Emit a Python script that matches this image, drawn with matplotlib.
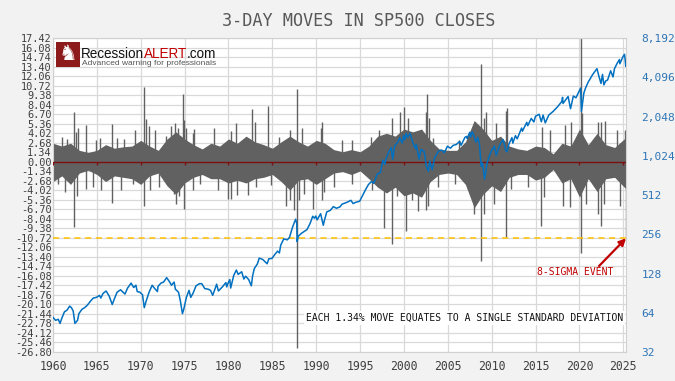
import matplotlib
matplotlib.use("Agg")
import matplotlib.pyplot as plt
from matplotlib.patches import Rectangle

# --- values ---

# typical band of 3-day moves (%), one value per year (last = last bar)
env_years = [1960, 1961, 1962, 1963, 1964, 1965, 1966, 1967, 1968, 1969,
             1970, 1971, 1972, 1973, 1974, 1975, 1976, 1977, 1978, 1979,
             1980, 1981, 1982, 1983, 1984, 1985, 1986, 1987, 1988, 1989,
             1990, 1991, 1992, 1993, 1994, 1995, 1996, 1997, 1998, 1999,
             2000, 2001, 2002, 2003, 2004, 2005, 2006, 2007, 2008, 2009,
             2010, 2011, 2012, 2013, 2014, 2015, 2016, 2017, 2018, 2019,
             2020, 2021, 2022, 2023, 2024, 2025.27]
env_up = [2.6, 2.2, 2.6, 1.6, 1.3, 1.6, 2.4, 1.9, 2.1, 2.2,
          3.0, 2.2, 1.6, 3.2, 4.2, 3.2, 2.4, 1.8, 2.6, 2.2,
          3.2, 2.6, 3.6, 2.8, 2.4, 1.9, 2.8, 3.6, 2.8, 2.2,
          3.0, 2.6, 1.7, 1.4, 1.7, 1.4, 2.2, 3.6, 4.0, 3.6,
          4.6, 4.2, 4.6, 3.0, 1.8, 1.6, 1.6, 2.8, 5.8, 4.6,
          3.0, 3.6, 2.2, 1.8, 1.6, 2.2, 2.0, 1.1, 2.6, 2.2,
          4.6, 2.4, 4.0, 2.4, 2.0, 3.4]
env_down = [-2.8, -2.0, -3.2, -1.6, -1.2, -1.8, -2.8, -2.0, -2.2, -2.4,
            -3.2, -2.0, -1.6, -3.4, -4.6, -3.0, -2.2, -1.8, -2.4, -2.4,
            -3.0, -2.6, -3.0, -2.4, -2.2, -1.8, -2.8, -4.0, -2.6, -2.4,
            -3.2, -2.4, -1.6, -1.4, -1.8, -1.3, -2.4, -3.6, -4.4, -3.6,
            -4.8, -4.4, -5.0, -2.8, -1.8, -1.6, -1.8, -3.2, -6.5, -4.6,
            -3.4, -4.2, -2.2, -1.8, -1.8, -2.6, -2.2, -1.1, -3.0, -2.4,
            -5.0, -2.4, -4.2, -2.4, -2.2, -3.8]

# larger single moves sticking out of the band
up_years = [1960.98, 1961.6, 1962.4, 1962.6, 1962.8, 1963.8, 1964.9, 1965.4,
            1966.7, 1967.3, 1968.1, 1969.4, 1970.32, 1970.6, 1970.9, 1971.6,
            1972.9, 1973.4, 1973.9, 1974.3, 1974.8, 1974.9, 1975.1, 1975.9,
            1976.1, 1978.4, 1980.3, 1980.8, 1982.72, 1983.03, 1984.5, 1985.7,
            1987.05, 1987.8, 1988.4, 1990.5, 1990.7, 1992.9, 1994.1, 1996.2,
            1997.1, 1998.6, 1999.6, 2000.0, 2000.4, 2001.2, 2002.5, 2002.65,
            2002.9, 2003.3, 2006.3, 2007.4, 2008.8, 2009.1, 2009.3, 2010.5,
            2011.6, 2011.77, 2015.75, 2016.6, 2018.35, 2019.0, 2020.2, 2020.3,
            2022.1, 2022.5, 2022.85, 2024.3, 2025.2]
up_vals = [3.5, 3.2, 7.0, 4.2, 4.7, 5.2, 3.0, 3.4,
           5.3, 3.4, 3.2, 4.4, 10.5, 6.0, 5.0, 4.5,
           3.6, 5.0, 5.4, 4.8, 9.6, 5.9, 4.8, 4.0,
           4.6, 4.7, 4.3, 5.4, 7.4, 5.6, 7.8, 3.5,
           4.5, 10.3, 4.7, 4.7, 5.6, 3.0, 3.0, 3.5,
           4.5, 6.1, 7.0, 7.7, 6.1, 4.2, 7.0, 9.6,
           6.1, 3.3, 3.0, 4.0, 13.8, 6.1, 7.0, 5.4,
           7.2, 7.6, 4.9, 4.4, 5.1, 5.6, 17.6, 6.8,
           5.6, 5.6, 5.8, 4.4, 4.4]

down_years = [1960.6, 1961.4, 1962.4, 1962.7, 1963.8, 1964.6, 1965.5, 1966.7,
              1967.8, 1969.1, 1970.4, 1971.0, 1972.1, 1973.8, 1974.0, 1974.4,
              1974.9, 1975.9, 1976.7, 1978.8, 1979.9, 1980.3, 1981.0, 1982.2,
              1983.1, 1984.8, 1986.5, 1987.05, 1987.45, 1987.8, 1988.0, 1988.6,
              1989.6, 1990.6, 1990.85, 1992.0, 1994.1, 1996.35, 1997.7, 1998.6,
              1999.2, 2000.2, 2000.9, 2001.6, 2002.5, 2002.75, 2003.9, 2005.8,
              2007.3, 2007.85, 2008.0, 2008.8, 2009.15, 2010.3, 2011.6, 2012.2,
              2014.1, 2015.6, 2016.0, 2018.1, 2018.9, 2020.2, 2020.75, 2022.15,
              2022.45, 2022.8, 2024.6, 2025.27]
down_vals = [-3.1, -4.2, -9.2, -4.9, -3.8, -3.5, -4.0, -5.8,
             -4.0, -3.1, -6.2, -4.0, -3.5, -4.5, -5.9, -4.9,
             -6.7, -4.0, -3.1, -4.0, -5.2, -5.3, -4.7, -4.7,
             -3.5, -3.3, -6.3, -5.4, -6.8, -26.3, -5.4, -4.5,
             -6.6, -5.4, -4.2, -3.5, -3.1, -4.0, -9.4, -11.6,
             -4.9, -9.7, -5.4, -7.0, -6.8, -6.3, -3.5, -3.1,
             -3.8, -4.9, -7.3, -14.0, -7.3, -5.9, -10.6, -3.8,
             -3.6, -9.0, -5.0, -6.2, -6.4, -12.9, -5.9, -7.3,
             -9.0, -5.9, -6.2, -10.8]

# SP500 close (right log axis)
sp_years = [1960.0, 1960.3, 1960.6, 1960.8, 1961.0, 1961.3, 1961.6, 1961.9,
            1962.1, 1962.3, 1962.5, 1962.8, 1962.95, 1963.3, 1963.6, 1963.9,
            1964.3, 1964.6, 1964.95, 1965.3, 1965.45, 1965.7, 1966.05, 1966.4,
            1966.75, 1967.0, 1967.3, 1967.7, 1968.2, 1968.5, 1968.9, 1969.2,
            1969.45, 1969.6, 1969.9, 1970.2, 1970.4, 1970.6, 1970.95, 1971.3,
            1971.6, 1971.9, 1971.97, 1972.3, 1972.6, 1972.95, 1973.3, 1973.5,
            1973.8, 1973.95, 1974.3, 1974.5, 1974.75, 1974.9, 1975.2, 1975.5,
            1975.7, 1975.95, 1976.3, 1976.7, 1976.95, 1977.3, 1977.7, 1977.95,
            1978.2, 1978.65, 1978.85, 1979.3, 1979.7, 1979.8, 1979.95, 1980.15,
            1980.25, 1980.6, 1980.9, 1981.1, 1981.5, 1981.75, 1981.95, 1982.3,
            1982.6, 1982.75, 1982.95, 1983.3, 1983.5, 1983.9, 1984.4, 1984.6,
            1984.95, 1985.3, 1985.6, 1985.8, 1985.95, 1986.3, 1986.7, 1986.95,
            1987.3, 1987.65, 1987.78, 1987.82, 1987.95, 1988.3, 1988.95, 1989.3,
            1989.6, 1989.8, 1989.95, 1990.1, 1990.5, 1990.8, 1990.95, 1991.2,
            1991.6, 1991.95, 1992.3, 1992.7, 1992.95, 1993.5, 1993.95, 1994.2,
            1994.5, 1994.95, 1995.3, 1995.6, 1995.95, 1996.3, 1996.55, 1996.95,
            1997.3, 1997.6, 1997.82, 1997.95, 1998.3, 1998.55, 1998.7, 1998.95,
            1999.3, 1999.5, 1999.8, 1999.95, 2000.1, 2000.25, 2000.4, 2000.7,
            2000.95, 2001.3, 2001.4, 2001.72, 2001.95, 2002.3, 2002.55, 2002.78,
            2002.92, 2003.2, 2003.5, 2003.95, 2004.3, 2004.6, 2004.95, 2005.3,
            2005.6, 2005.95, 2006.35, 2006.5, 2006.95, 2007.15, 2007.2, 2007.5,
            2007.6, 2007.78, 2007.95, 2008.2, 2008.4, 2008.6, 2008.8, 2008.95,
            2009.18, 2009.5, 2009.95, 2010.3, 2010.5, 2010.95, 2011.3, 2011.6,
            2011.75, 2011.95, 2012.3, 2012.4, 2012.7, 2012.9, 2012.99, 2013.4,
            2013.5, 2013.99, 2014.1, 2014.5, 2014.8, 2014.99, 2015.4, 2015.65,
            2015.85, 2016.1, 2016.5, 2016.99, 2017.5, 2017.99, 2018.07, 2018.12,
            2018.7, 2018.98, 2019.3, 2019.6, 2019.99, 2020.13, 2020.22, 2020.5,
            2020.7, 2020.99, 2021.5, 2021.99, 2022.2, 2022.45, 2022.62, 2022.78,
            2022.99, 2023.2, 2023.55, 2023.82, 2023.99, 2024.3, 2024.55, 2024.6,
            2024.95, 2025.13, 2025.2, 2025.27]
sp_close = [59, 56, 57, 53, 58, 65, 67, 72,
            70, 66, 53, 56, 63, 68, 70, 73,
            79, 83, 84, 87, 83, 90, 94, 86,
            74, 82, 92, 96, 89, 99, 108, 100,
            104, 93, 92, 88, 70, 78, 92, 104,
            98, 93, 102, 108, 110, 119, 110, 104,
            110, 97, 92, 80, 63, 68, 84, 95,
            84, 90, 103, 107, 107, 98, 97, 95,
            87, 106, 94, 101, 109, 101, 108, 115,
            99, 124, 136, 126, 132, 116, 122, 115,
            103, 123, 140, 152, 168, 164, 152, 166,
            167, 180, 190, 184, 211, 236, 232, 242,
            290, 334, 310, 225, 247, 260, 278, 310,
            352, 340, 353, 330, 368, 300, 330, 380,
            390, 417, 405, 415, 436, 450, 466, 440,
            450, 459, 510, 560, 616, 650, 630, 741,
            760, 950, 880, 970, 1110, 1180, 960, 1229,
            1300, 1410, 1280, 1469, 1360, 1520, 1420, 1520,
            1320, 1160, 1250, 965, 1148, 1100, 850, 776,
            936, 800, 990, 1112, 1130, 1080, 1212, 1170,
            1230, 1248, 1320, 1230, 1418, 1440, 1390, 1550,
            1420, 1565, 1468, 1300, 1420, 1250, 850, 903,
            676, 920, 1115, 1217, 1030, 1258, 1363, 1120,
            1099, 1258, 1410, 1280, 1460, 1380, 1426, 1670,
            1580, 1848, 1740, 1980, 1860, 2059, 2130, 1867,
            2100, 1829, 2100, 2239, 2430, 2674, 2873, 2580,
            2914, 2351, 2940, 2850, 3231, 3386, 2237, 3100,
            3400, 3756, 4300, 4766, 4200, 3667, 4305, 3577,
            3840, 3900, 4588, 4117, 4770, 5250, 5600, 5200,
            5880, 6140, 5600, 4980]

sigma = 1.34
right_ticks = [32, 64, 128, 256, 512, 1024, 2048, 4096, 8192]

W, H = 675, 381
MONO = "DejaVu Sans Mono"
bar_col = "#616161"

fig = plt.figure(figsize=(W / 100, H / 100), dpi=100, facecolor="#f2f2f2")
ax = fig.add_axes([53 / W, 29 / H, 573 / W, 314 / H])
ax.set_facecolor("white")

# bars
ax.fill_between(env_years, env_down, env_up, color=bar_col, lw=0, zorder=2)
ax.vlines(up_years, 0, up_vals, color=bar_col, lw=1.0, zorder=2)
ax.vlines(down_years, 0, down_vals, color=bar_col, lw=1.0, zorder=2)

# zero line with little year marks
ax.axhline(0, color="#7a1010", lw=1.0, zorder=3)
ax.vlines(range(1960, 2026, 5), -0.45, 0, color="#7a1010", lw=1.0, zorder=3)

# 8 sigma line
ax.axhline(-8 * sigma, color="#ffc000", lw=1.1, ls=(0, (4, 3)), zorder=3)

ax.set_xlim(1960, 2025.3)
ax.set_ylim(-20 * sigma, 13 * sigma)
yt = [round(k * sigma, 2) for k in range(-20, 14)]
ax.set_yticks(yt)
ax.set_yticklabels(["%.2f" % (v + 0.0) for v in yt])
ax.set_xticks(range(1960, 2026, 5))
ax.grid(True, color="#d9d9d9", lw=0.9)
ax.set_axisbelow(True)
ax.tick_params(axis="y", length=0, pad=1, labelsize=7.4, labelcolor="#404040")
ax.tick_params(axis="x", length=0, pad=6, labelsize=8.3, labelcolor="#404040")
for lab in ax.get_xticklabels() + ax.get_yticklabels():
    lab.set_family(MONO)
for s in ax.spines.values():
    s.set_color("#d0d0d0")

# SP500 on log2 axis
ax2 = ax.twinx()
ax2.plot(sp_years, sp_close, color="#0070c0", lw=1.1, zorder=4)
ax2.set_yscale("log", base=2)
ax2.set_ylim(32, 8192)
ax2.set_yticks(right_ticks)
ax2.set_yticklabels(["{:,}".format(v) for v in right_ticks])
ax2.minorticks_off()
ax2.tick_params(axis="y", length=0, pad=11, labelsize=8, labelcolor="#2e75b6")
for lab in ax2.get_yticklabels():
    lab.set_family(MONO)
for s in ax2.spines.values():
    s.set_visible(False)
ax2.set_xlim(1960, 2025.3)

fig.text(0.531, 1 - 21 / H, "3-DAY MOVES IN SP500 CLOSES", family=MONO,
         fontsize=12.2, color="#595959", ha="center", va="center")

ax.text(0.995, 0.108, "EACH 1.34% MOVE EQUATES TO A SINGLE STANDARD DEVIATION",
        transform=ax.transAxes, ha="right", va="center", family=MONO,
        fontsize=7, color="#111111", zorder=6,
        bbox=dict(facecolor="white", edgecolor="none", pad=1.5))

ax.text(0.912, 0.254, "8-SIGMA EVENT", transform=ax.transAxes, ha="center",
        va="center", family=MONO, fontsize=7, color="#c00000", zorder=6)
ax.annotate("", xy=(1.0, 0.362), xycoords="axes fraction",
            xytext=(0.953, 0.274), textcoords="axes fraction",
            arrowprops=dict(arrowstyle="-|>", color="#c00000", lw=1.6,
                            mutation_scale=10, shrinkA=0, shrinkB=0),
            zorder=6)

# logo
fig.patches.append(Rectangle((56 / W, 1 - 67 / H), 24 / W, 25 / H,
                             transform=fig.transFigure, facecolor="#8e1b1b",
                             edgecolor="none", zorder=5))
fig.text(68 / W, 1 - 54.5 / H, "\u265e", family="DejaVu Sans", fontsize=15,
         color="white", ha="center", va="center", zorder=6)

logo_fam = ["Liberation Sans", "DejaVu Sans"]
parts = [("Recession", "#111111"), ("ALERT", "#c00000"), (".com", "#111111")]
size = 12
texts = [fig.text(81 / W, 1 - 57.5 / H, p, family=logo_fam, fontsize=size,
                  color=c, va="baseline", zorder=6) for p, c in parts]
sub = fig.text(81.5 / W, 1 - 65 / H, "Advanced warning for professionals",
               family=logo_fam, fontsize=6, color="#555555", va="baseline",
               zorder=6)
fig.canvas.draw()
r = fig.canvas.get_renderer()
total = sum(t.get_window_extent(r).width for t in texts)
size = size * 136 / total
for t in texts:
    t.set_fontsize(size)
sub.set_fontsize(6 * 134 / sub.get_window_extent(r).width)
fig.canvas.draw()
x = 81
for t in texts:
    t.set_x(x / W)
    x += t.get_window_extent(r).width

fig.savefig("out.png", dpi=100, facecolor=fig.get_facecolor())
